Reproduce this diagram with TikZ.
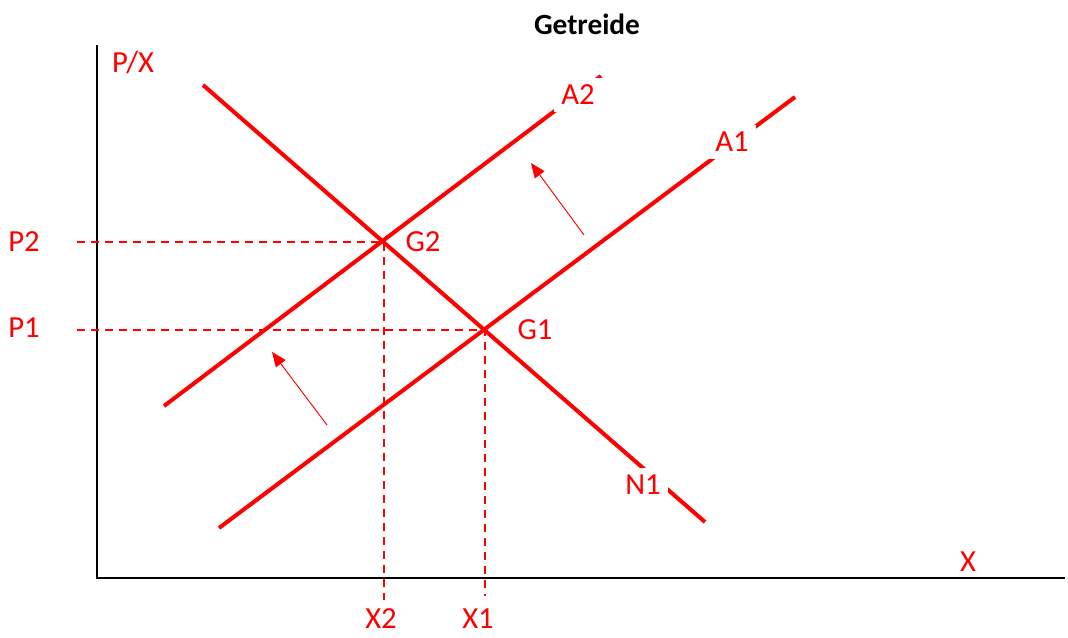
\documentclass[tikz,border=0pt]{standalone}
\usepackage{fontspec}
\setmainfont{Carlito}
\usetikzlibrary{arrows.meta}

\begin{document}
\begin{tikzpicture}[
        x=0.75pt, y=-0.75pt,
        curve/.style={draw=red, line width=3pt},
        guide/.style={draw=red, line width=1.2pt, dash pattern=on 6pt off 4.5pt},
        axis/.style={draw=black, line width=1.5pt},
        shiftarrow/.style={draw=red, line width=0.7pt, -{Triangle[length=11pt,width=9pt]}},
        lbl/.style={text=red, font=\fontsize{23}{26}\selectfont, inner sep=1pt},
        cut/.style={lbl, fill=white, inner sep=5.5pt},
    ]
    \useasboundingbox (0,0) rectangle (1068,637);

    % axes
    \coordinate (o) at (97,578);
    \coordinate (ytop) at (97,45);
    \coordinate (xend) at (1065,578);
    \draw[axis] (ytop) -- (o) -- (xend);
    \node[font=\bfseries\fontsize{22}{24}\selectfont] (title) at (587,24) {Getreide};
    \node[lbl] (ylab) at (133,62) {P/X};
    \node[lbl] (xlab) at (968,562) {X};

    % equilibria
    \coordinate (G2) at (384,242);
    \coordinate (G1) at (485,330);
    \coordinate (p2start) at (77,242);
    \coordinate (p1start) at (77,330);
    \coordinate (x2end) at (384,600);
    \coordinate (x1end) at (485,596);
    \draw[guide] (p2start) -- (G2) -- (x2end);
    \draw[guide] (p1start) -- (G1) -- (x1end);

    % demand and supply
    \coordinate (n1a) at (203,85);
    \coordinate (n1b) at (705,522);
    \coordinate (a1a) at (219,528);
    \coordinate (a1b) at (795,97);
    \coordinate (a2a) at (164,406);
    \coordinate (a2b) at (601,76);
    \draw[curve] (n1a) -- (n1b);
    \draw[curve] (a1a) -- (a1b);
    \draw[curve] (a2a) -- (a2b);

    % curve labels
    \node[cut] (n1lab) at (643,485) {N1};
    \node[cut] (a1lab) at (732,142) {A1};
    \node[cut] (a2lab) at (578,95) {A2};
    \node[lbl] (g2lab) at (423,242) {G2};
    \node[lbl] (g1lab) at (535,330) {G1};
    \node[lbl] (p2lab) at (24,242) {P2};
    \node[lbl] (p1lab) at (24,328) {P1};
    \node[lbl] (x2lab) at (381,619) {X2};
    \node[lbl] (x1lab) at (478,619) {X1};

    % shift of supply
    \coordinate (s1from) at (584,235);
    \coordinate (s1to) at (531,163);
    \coordinate (s2from) at (327,425);
    \coordinate (s2to) at (272,352);
    \draw[shiftarrow] (s1from) -- (s1to);
    \draw[shiftarrow] (s2from) -- (s2to);
\end{tikzpicture}
\end{document}
